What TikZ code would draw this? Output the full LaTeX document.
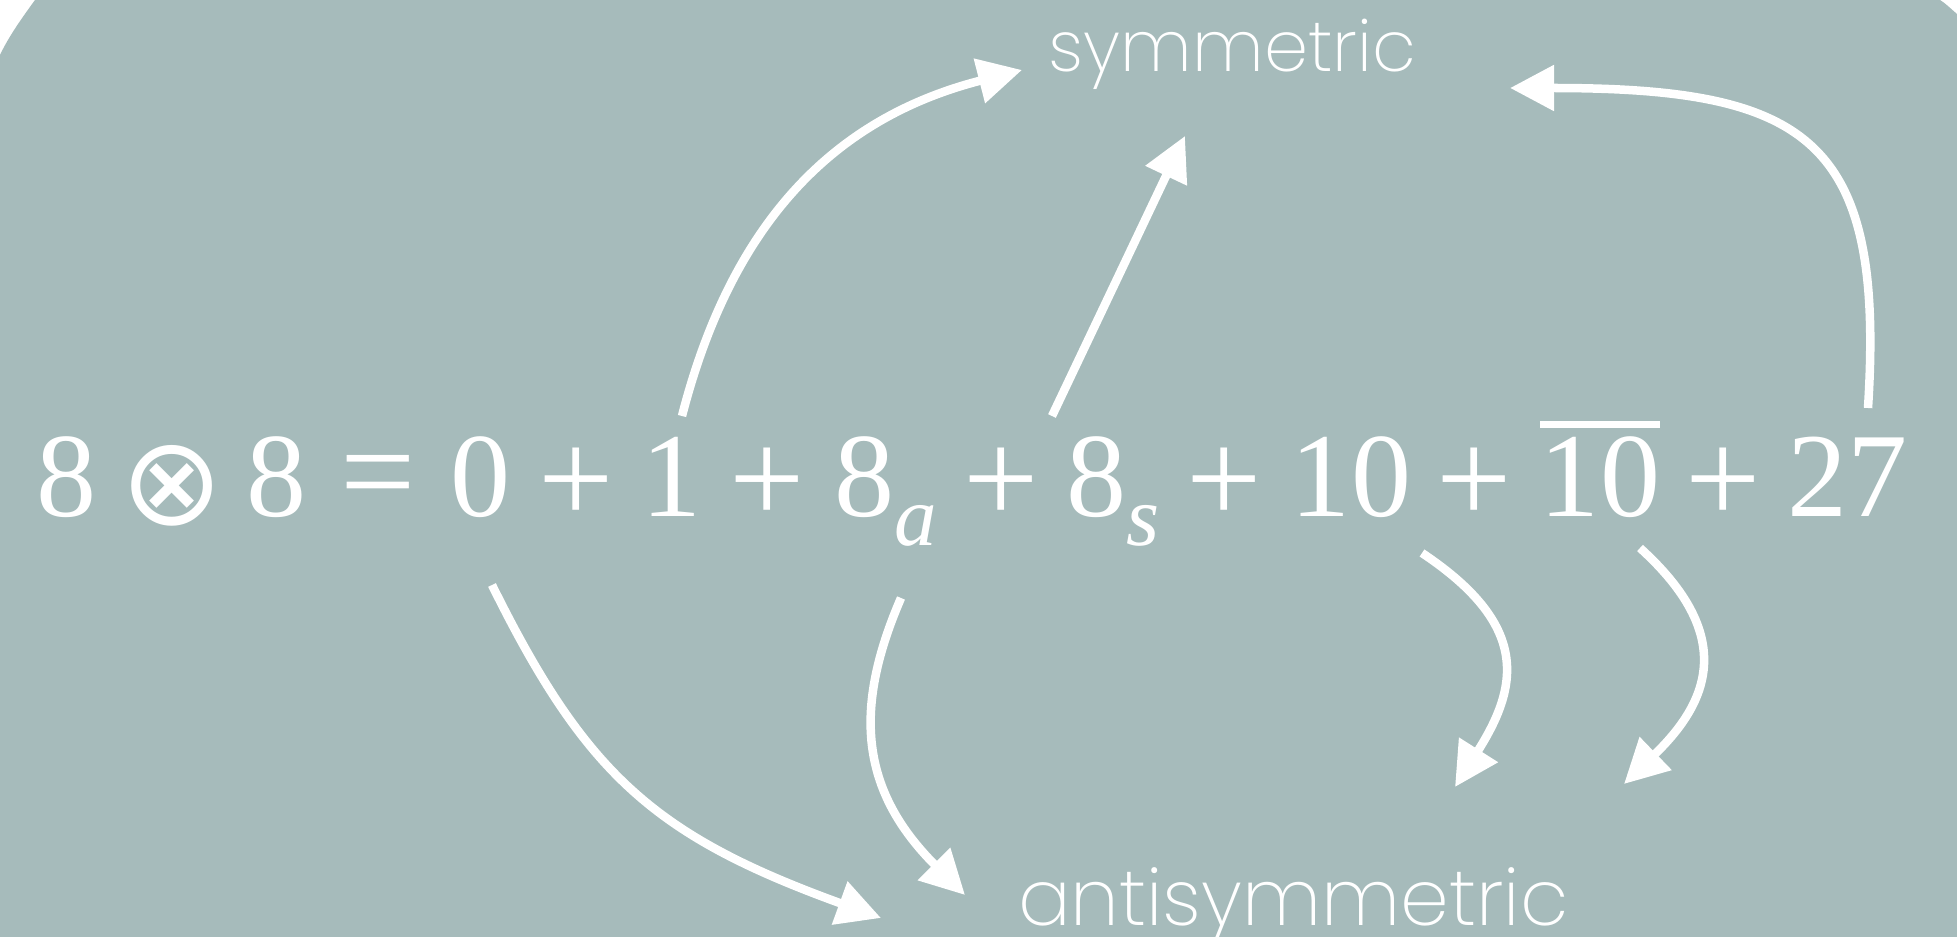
\documentclass[tikz,border=0pt]{standalone}
\usepackage{fontspec}
\setmainfont{Liberation Serif}
\newfontfamily\labfont{Poppins ExtraLight}
\newfontfamily\symfnt{DejaVu Sans}
\usetikzlibrary{arrows.meta}
\definecolor{bg}{RGB}{166,187,187}
\newcommand{\subfnt}{\fontsize{24.2}{28}\selectfont\itshape}
\begin{document}
\begin{tikzpicture}[x=0.01cm,y=-0.01cm,
  num/.style={anchor=base, inner sep=0pt, text=white, font=\fontsize{34.14}{40}\selectfont},
  op/.style={anchor=center, inner sep=0pt, text=white, font=\fontsize{38}{44}\selectfont},
  otop/.style={anchor=center, inner sep=0pt, text=white, font=\symfnt\fontsize{35}{40}\selectfont},
  lab/.style={anchor=base, inner sep=0pt, text=white},
  conn/.style={draw=white, line width=0.085cm, -{Triangle[length=0.44cm,width=0.44cm]}}]
\fill[white] (0,0) rectangle (1957,937);
\fill[bg] (35,0) .. controls (22,18) and (9,36) .. (0,55) -- (0,937) -- (1957,937) -- (1957,14) .. controls (1950,8) and (1945,3) .. (1940,0) -- cycle;
\useasboundingbox (0,0) rectangle (1957,937);
% equation
\node[num] (d1) at (67,517) {8};
\node[otop] (ot) at (172.5,485.5) {⊗};
\node[num] (d2) at (276.5,517) {8};
\node[op] (eq) at (378.5,485.5) {=};
\node[num] (zero) at (481,517) {0};
\node[op] (p1) at (576.5,485.5) {+};
\node[num] (one) at (672,517) {1};
\node[op] (p2) at (767.5,485.5) {+};
\node[num] (e8a) at (864.5,517) {8\rlap{\raisebox{-0.28cm}{\subfnt a}}};
\node[op] (p3) at (1001,485.5) {+};
\node[num] (e8s) at (1096.5,517) {8\rlap{\raisebox{-0.28cm}{\subfnt s}}};
\node[op] (p4) at (1224,485.5) {+};
\node[num] (ten) at (1351,517) {10};
\node[op] (p5) at (1474.5,485.5) {+};
\node[num] (tenbar) at (1600,517) {\vbox{\hrule height 0.07cm\kern0.09cm\hbox{10}}};
\node[op] (p6) at (1723.5,485.5) {+};
\node[num] (tws) at (1847.5,517) {27};
% labels
\node[lab, font=\labfont\fontsize{20.1}{24}\selectfont] (sym) at (1232.5,72) {symmetric};
\node[lab, font=\labfont\fontsize{22.2}{28}\selectfont] (anti) at (1293.5,925) {antisymmetric};
% connectors
\draw[conn] ([shift={(10,-101)}]one.base) .. controls (732,222) and (834,118) .. ([shift={(-210.5,-2)}]sym.base);
\draw[conn] ([shift={(-44.5,-101)}]e8s.base) -- ([shift={(-47.5,64)}]sym.base);
\draw[conn] ([shift={(20.5,-109)}]tws.base) .. controls (1885,140) and (1810,88) .. ([shift={(277.5,16)}]sym.base);
\draw[conn] ([shift={(11,68)}]zero.base) .. controls (586,775) and (655,836) .. ([shift={(-412.5,-7)}]anti.base);
\draw[conn] ([shift={(36.5,81)}]e8a.base) .. controls (853,709) and (860,790) .. ([shift={(-328.5,-30)}]anti.base);
\coordinate (fend) at (1455,787);
\coordinate (gend) at (1624,784);
\draw[conn] ([shift={(71,36)}]ten.base) .. controls (1530,625) and (1519,686) .. (fend);
\draw[conn] ([shift={(40,31)}]tenbar.base) .. controls (1736,635) and (1710,701) .. (gend);
\end{tikzpicture}
\end{document}
